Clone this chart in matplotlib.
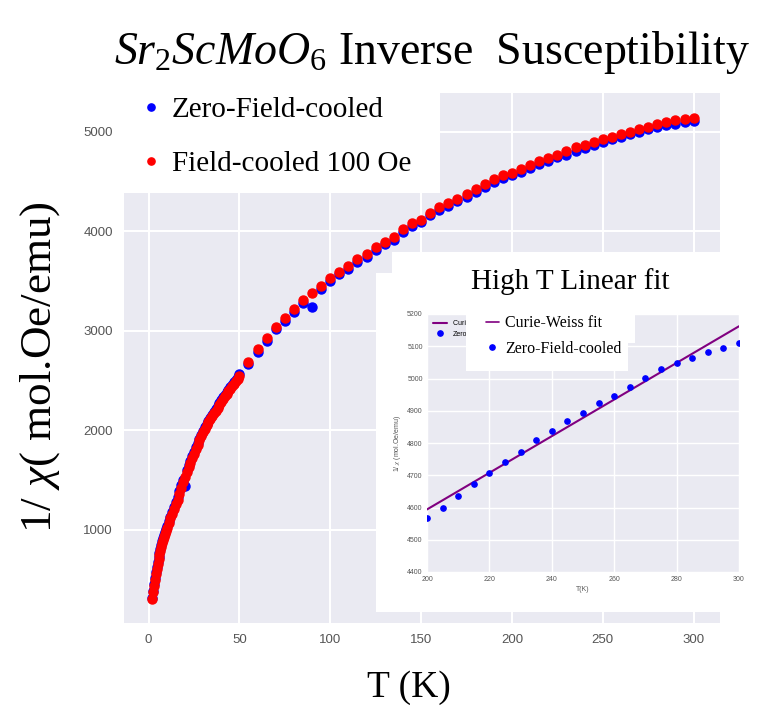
import matplotlib
matplotlib.use("Agg")
import matplotlib.pyplot as plt
from matplotlib.patches import Rectangle

# Sr2ScMoO6 inverse susceptibility, ZFC and FC (100 Oe), with high-T Curie-Weiss inset

temps = ([2, 2.5, 3, 3.5, 4, 4.5, 5, 5.5, 6, 6.5, 7, 7.5, 8, 8.5, 9, 9.5]
         + list(range(10, 51)) + list(range(55, 301, 5)))

zfc = [320, 390, 455, 515, 575, 628, 680, 725, 770, 810, 850, 885, 920, 950, 980, 1008,
       1035, 1085, 1135, 1185, 1235, 1285, 1330, 1390, 1450, 1505,
       1440, 1600, 1650, 1695, 1740, 1785, 1830, 1875, 1915, 1955,
       1995, 2030, 2065, 2095, 2125, 2155, 2185, 2215, 2245, 2275,
       2305, 2333, 2360, 2385, 2410, 2435, 2460, 2485, 2510, 2535, 2570,
       2665, 2790, 2900, 3015, 3100, 3190, 3283, 3243, 3425, 3500,
       3568, 3625, 3692, 3742, 3812, 3868, 3918, 3992, 4052, 4092,
       4160, 4213, 4258, 4302, 4348, 4400, 4444, 4494, 4537,
       4566, 4597, 4636, 4672, 4707, 4742, 4771, 4808, 4838, 4867,
       4894, 4923, 4945, 4974, 5003, 5029, 5049, 5065, 5082, 5095, 5111]

fc = [310, 375, 440, 500, 560, 610, 660, 705, 750, 790, 830, 865, 900, 930, 960, 988,
      1015, 1065, 1115, 1165, 1215, 1260, 1300, 1360, 1420, 1480,
      1530, 1580, 1630, 1675, 1720, 1765, 1810, 1855, 1900, 1940,
      1980, 2015, 2050, 2080, 2110, 2140, 2170, 2200, 2230, 2260,
      2290, 2318, 2345, 2370, 2395, 2420, 2445, 2470, 2495, 2520, 2545,
      2690, 2814, 2925, 3041, 3126, 3216, 3309, 3383, 3450, 3527,
      3594, 3651, 3718, 3768, 3838, 3895, 3945, 4019, 4079, 4119,
      4186, 4240, 4285, 4330, 4375, 4427, 4471, 4521, 4564,
      4591, 4625, 4665, 4702, 4738, 4772, 4805, 4843, 4870, 4900,
      4928, 4950, 4980, 5000, 5033, 5050, 5083, 5100, 5118, 5130, 5140]

# Curie-Weiss linear fit over 200-300 K
fit_T = [200, 300]
fit_y = [4594, 5162]

main_xticks = [0, 50, 100, 150, 200, 250, 300]
main_yticks = [1000, 2000, 3000, 4000, 5000]
inset_xticks = [200, 220, 240, 260, 280, 300]
inset_yticks = [4400, 4500, 4600, 4700, 4800, 4900, 5000, 5100, 5200]

plt.style.use("seaborn-v0_8-darkgrid")
plt.rcParams["font.family"] = ["Liberation Sans", "DejaVu Sans"]
plt.rcParams["text.color"] = "black"
plt.rcParams["mathtext.fontset"] = "custom"
plt.rcParams["mathtext.rm"] = "Liberation Serif"
plt.rcParams["mathtext.it"] = "Liberation Serif:italic"
serif = ["Liberation Serif", "DejaVu Serif"]

W, H = 771, 712


def box(x0, y0, x1, y1):
    # pixel box (top-left origin) -> figure fraction [l, b, w, h]
    return [x0 / W, 1 - y1 / H, (x1 - x0) / W, (y1 - y0) / H]


def white(x0, y0, x1, y1, z):
    l, b, w, h = box(x0, y0, x1, y1)
    fig.add_artist(Rectangle((l, b), w, h, transform=fig.transFigure,
                             facecolor="white", edgecolor="none", zorder=z))


fig = plt.figure(figsize=(W / 100, H / 100), dpi=100)
fig.patch.set_facecolor("white")

ax = fig.add_axes(box(124, 93, 720, 623), zorder=0)
l_zfc, = ax.plot(temps, zfc, "o", color="blue", markersize=6.5, label="Zero-Field-cooled")
l_fc, = ax.plot(temps, fc, "o", color="red", markersize=6.5, label="Field-cooled 100 Oe")
ax.set_xlim(-13.5, 314.5)
ax.set_ylim(65, 5390)
ax.set_xticks(main_xticks)
ax.set_yticks(main_yticks)
ax.tick_params(labelsize=9.5, labelcolor="#555555", pad=8)
ax.grid(color="white", linewidth=1.5)

fig.text(432 / W, 1 - 53 / H, r"$Sr_2ScMoO_6$ Inverse  Susceptibility",
         ha="center", va="center", fontsize=33, family=serif)
fig.text(409 / W, 1 - 688 / H, "T (K)", ha="center", va="center",
         fontsize=27, family=serif)
fig.text(40 / W, 1 - 367 / H, r"1/ $\chi$( mol.Oe/emu)", ha="center", va="center",
         rotation=90, fontsize=32.5, family=serif)

# white cut-outs from the pasted boxes
white(124, 80, 440, 193, 1)
white(376, 273, 771, 612, 1)
white(392, 252, 771, 273, 1)

# inset
axi = fig.add_axes(box(427, 314, 739, 572), zorder=2)
hi_T = [t for t in temps if t >= 200]
hi_zfc = [v for t, v in zip(temps, zfc) if t >= 200]
l_fit, = axi.plot(fit_T, fit_y, color="purple", linewidth=1.5, label="Curie-Weiss fit")
l_zi, = axi.plot(hi_T, hi_zfc, "o", color="blue", markersize=3.8, label="Zero-Field-cooled")
axi.set_xlim(200, 300)
axi.set_ylim(4400, 5200)
axi.set_xticks(inset_xticks)
axi.set_yticks(inset_yticks)
axi.tick_params(labelsize=5, labelcolor="#555555", pad=3)
axi.grid(color="white", linewidth=1)
axi.set_xlabel("T(K)", fontsize=5, color="#555555", labelpad=2)
axi.set_ylabel(r"1/ $\chi$ (mol.Oe/emu)", fontsize=5, color="#555555", labelpad=3)
axi.legend(loc="upper left", fontsize=5, frameon=False)

fig.text(570 / W, 1 - 282 / H, "High T Linear fit", ha="center", va="center",
         fontsize=21, family=serif)

white(466, 313, 635, 343, 3)
white(466, 343, 628, 371, 3)

leg_in = fig.legend(handles=[l_fit, l_zi], labels=["Curie-Weiss fit", "Zero-Field-cooled"],
                    loc="center left", bbox_to_anchor=(478 / W, 1 - 336 / H),
                    frameon=False, prop={"family": serif, "size": 11.5},
                    handlelength=0.8, handletextpad=0.4, labelspacing=0.6, borderpad=0)
leg_in.get_lines()[0].set_linewidth(1.2)
leg_in.set_zorder(6)

leg = fig.legend(handles=[l_zfc, l_fc], labels=["Zero-Field-cooled", "Field-cooled 100 Oe"],
                 loc="center left", bbox_to_anchor=(128 / W, 1 - 137 / H),
                 frameon=False, prop={"family": serif, "size": 21},
                 handlelength=0.6, handletextpad=0.4, labelspacing=0.95,
                 markerscale=0.8, borderpad=0)
leg.set_zorder(6)

fig.savefig("out.png", dpi=100)
